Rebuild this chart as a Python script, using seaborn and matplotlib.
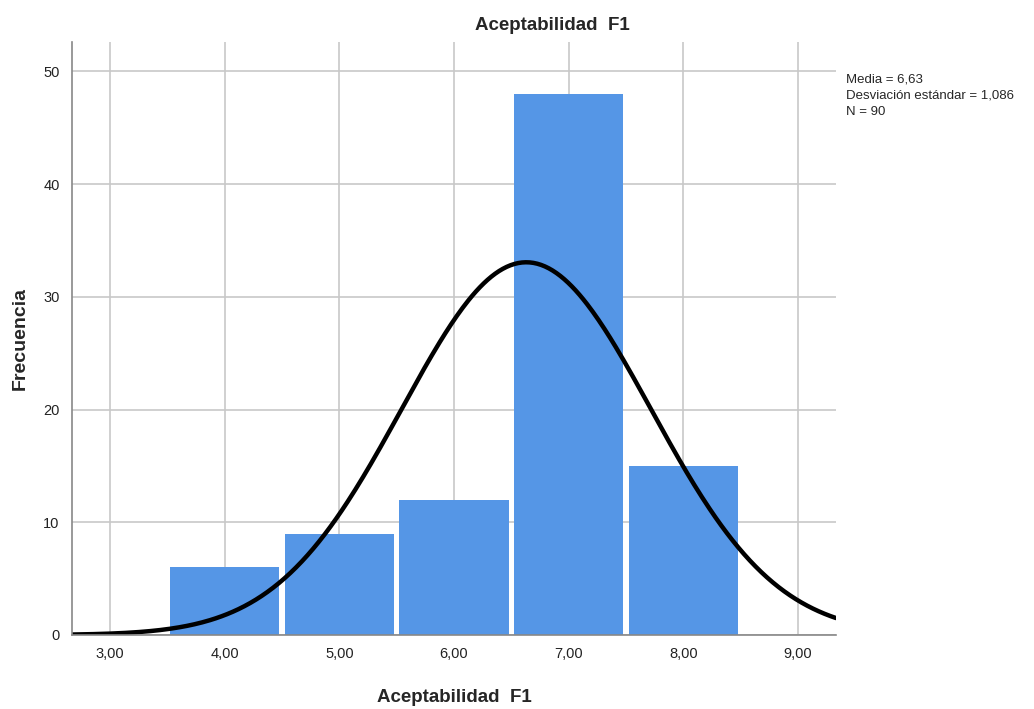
import numpy as np
import matplotlib
matplotlib.use("Agg")
import matplotlib.pyplot as plt
import seaborn as sns

# Data
bin_centers = [4.0, 5.0, 6.0, 7.0, 8.0]
counts = [6, 9, 12, 48, 15]
bin_edges = [3.5, 4.5, 5.5, 6.5, 7.5, 8.5]
mean_val = 6.63
sd_val = 1.086
n_val = 90
x_ticks = [3, 4, 5, 6, 7, 8, 9]
x_tick_labels = ["3,00", "4,00", "5,00", "6,00", "7,00", "8,00", "9,00"]
y_ticks = [0, 10, 20, 30, 40, 50]
stats_lines = ["Media = 6,63", "Desviación estándar = 1,086", "N = 90"]

sns.set_style("white")
plt.rcParams['font.family'] = ['Liberation Sans', 'DejaVu Sans']

fig = plt.figure(figsize=(10.34, 7.09), dpi=100)
ax = fig.add_axes([72/1034, 1-635/709, (836-72)/1034, (635-42)/709])

ax.set_axisbelow(True)
ax.grid(True, color="#c8c8c8", linewidth=1.2)

sns.histplot(x=bin_centers, weights=counts, bins=bin_edges, ax=ax,
             color="#5596e6", alpha=1.0, linewidth=0, shrink=0.955)

xs = np.linspace(2.67, 9.33, 400)
ys = n_val * 1.0 / (sd_val * np.sqrt(2 * np.pi)) * np.exp(-0.5 * ((xs - mean_val) / sd_val) ** 2)
sns.lineplot(x=xs, y=ys, ax=ax, color="black", linewidth=3.2)

ax.set_xlim(2.67, 9.33)
ax.set_ylim(0, 52.6)
ax.set_xticks(x_ticks)
ax.set_xticklabels(x_tick_labels)
ax.set_yticks(y_ticks)
ax.tick_params(axis="both", labelsize=10.5, length=0, pad=9, colors="#222222")

for s in ["top", "right"]:
    ax.spines[s].set_visible(False)
for s in ["left", "bottom"]:
    ax.spines[s].set_color("#888888")
    ax.spines[s].set_linewidth(1.2)

ax.set_xlabel("Aceptabilidad  F1", fontsize=13.5, fontweight="bold", labelpad=20)
ax.set_ylabel("Frecuencia", fontsize=14, fontweight="bold", labelpad=10)

fig.text(552/1034, 1-25/709, "Aceptabilidad  F1", ha="center", va="center",
         fontsize=13.5, fontweight="bold")
for i, line in enumerate(stats_lines):
    fig.text(846/1034, 1-(80 + 16*i)/709, line, ha="left", va="center", fontsize=9.5)

fig.savefig("out.png", dpi=100)
